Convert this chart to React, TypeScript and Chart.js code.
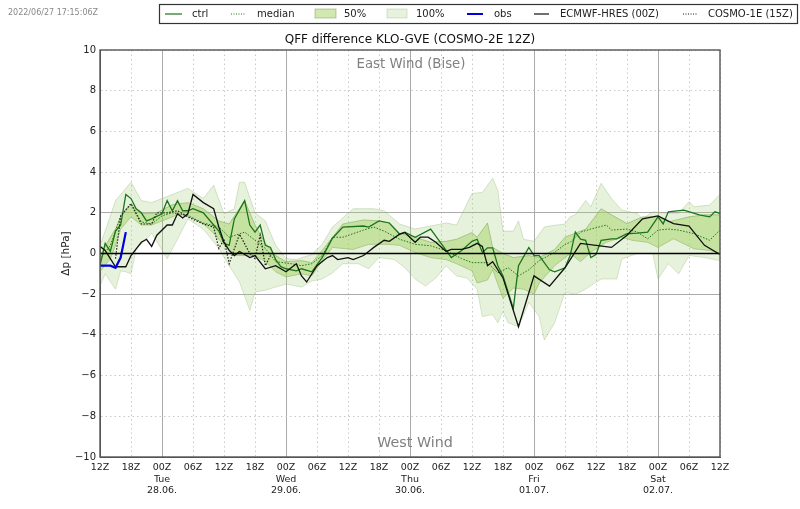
import { useEffect, useRef } from 'react';
import { Chart, registerables } from 'chart.js';

Chart.register(...registerables);

// hours since 27.06. 12Z
const ctrlHours = [0, 1, 2, 3, 4, 5, 6, 7, 8, 9, 10, 12, 13, 14, 15, 16, 17, 18, 20, 22, 23, 24, 25, 26, 28, 29, 30, 31, 32, 33, 34, 35, 36, 38, 39, 41, 43, 45, 47, 51, 52, 54, 56, 58, 59, 61, 64, 67, 68, 70, 72, 73, 74, 75, 76, 77, 78, 80, 81, 83, 84, 85, 87, 88, 90, 91, 92, 93, 94, 95, 96, 97, 99, 100, 102, 104, 106, 108, 109, 110, 113, 116, 118, 119, 120];
const ctrlValues = [-0.6, 0.5, 0.1, 1.1, 1.4, 2.9, 2.7, 2.2, 2.0, 1.6, 1.7, 1.95, 2.6, 2.1, 2.6, 2.1, 2.1, 2.2, 2.0, 1.4, 1.1, 0.5, 0.4, 1.7, 2.6, 1.4, 1.05, 1.4, 0.4, 0.3, -0.3, -0.65, -0.75, -0.85, -0.75, -0.9, -0.2, 0.75, 1.3, 1.35, 1.3, 1.6, 1.5, 0.95, 1.05, 0.8, 1.2, 0.15, -0.2, 0.15, 0.6, 0.7, 0.05, 0.28, 0.28, -0.6, -1.1, -2.7, -0.6, 0.3, -0.1, -0.1, -0.8, -0.9, -0.7, -0.1, 1.05, 0.7, 0.65, -0.2, -0.05, 0.65, 0.72, 0.72, 0.97, 1.0, 1.05, 1.8, 1.45, 2.05, 2.13, 1.9, 1.8, 2.05, 1.97];

const medianHours = [0, 2, 3, 4, 6, 8, 10, 12, 14, 17, 20, 23, 25, 28, 30, 32, 34, 37, 39, 41, 43, 45, 47, 51, 53, 55, 58, 61, 64, 67, 70, 72, 75, 77, 79, 81, 83, 85, 88, 90, 91, 93, 95, 98, 99, 102, 104, 106, 108, 110, 112, 115, 118, 120];
const medianValues = [-0.3, 0.4, 1.1, 1.85, 2.45, 1.55, 1.45, 1.85, 2.0, 1.85, 1.5, 1.3, 0.8, 1.05, 0.65, 0.25, -0.4, -0.5, -0.6, -0.5, -0.1, 0.8, 0.8, 1.15, 1.3, 1.1, 0.7, 0.45, 0.38, 0.13, -0.25, -0.45, -0.45, -0.95, -0.7, -1.1, -0.8, -0.35, 0.05, 0.45, 0.55, 1.05, 1.2, 1.4, 1.15, 1.2, 1.05, 0.72, 1.15, 1.2, 1.15, 0.97, 0.65, 1.15];

const p50UpperHours = [0, 2, 3, 4, 6, 8, 11, 14, 17, 20, 23, 25, 28, 30, 32, 34, 36, 39, 41, 43, 45, 47, 51, 54, 56, 58, 61, 64, 67, 69, 72, 73, 75, 76, 78, 80, 83, 85, 88, 90, 92, 94, 97, 99, 102, 105, 108, 110, 114, 117, 120];
const p50UpperValues = [-0.1, 0.8, 1.2, 1.8, 2.4, 1.95, 2.0, 2.4, 2.5, 2.2, 1.6, 1.45, 2.6, 1.4, 0.5, -0.1, -0.4, -0.35, -0.45, 0.15, 0.8, 1.45, 1.65, 1.6, 1.5, 1.0, 0.8, 0.55, 0.6, 0.7, 1.03, 0.8, 1.5, 0.3, 0.0, -0.2, -0.1, -0.2, 0.2, 0.8, 1.0, 1.2, 2.2, 1.9, 1.47, 1.8, 1.8, 1.55, 1.8, 1.9, 1.9];

const p50LowerHours = [0, 2, 3, 4, 6, 8, 10, 13, 15, 17, 20, 22, 24, 26, 29, 30, 32, 34, 36, 39, 41, 43, 45, 49, 52, 56, 58, 61, 64, 67, 69, 72, 73, 75, 76, 78, 80, 82, 84, 85, 88, 91, 93, 95, 98, 101, 103, 106, 108, 111, 115, 118, 120];
const p50LowerValues = [-0.9, -0.25, 0.4, 1.2, 1.8, 1.4, 1.4, 1.7, 1.9, 1.9, 1.45, 1.0, 0.4, -0.1, -0.1, -0.1, -0.4, -0.9, -1.15, -1.0, -1.1, -0.35, 0.3, 0.2, 0.45, 0.45, 0.4, 0.05, -0.2, -0.3, -0.5, -0.85, -1.45, -1.3, -0.8, -2.2, -1.7, -1.75, -2.0, -1.45, -0.6, 0.0, -0.4, 0.07, 0.55, 0.8, 0.65, 0.55, 0.3, 0.73, 0.23, 0.15, 0.0];

const p100UpperHours = [0, 1, 3, 6, 8, 10, 12, 15, 17, 20, 22, 24, 26, 27, 28, 30, 32, 34, 36, 38, 41, 43, 45, 47, 49, 53, 55, 58, 61, 64, 67, 69, 72, 74, 76, 77, 78, 80, 81, 82, 84, 86, 87, 90, 91, 92, 94, 95, 97, 99, 101, 104, 105, 107, 110, 112, 114, 115, 118, 120];
const p100UpperValues = [0.4, 1.1, 2.6, 3.5, 2.6, 2.5, 2.7, 3.0, 3.2, 2.7, 3.35, 1.95, 2.2, 3.5, 3.5, 2.0, 1.6, 0.4, -0.25, -0.3, -0.05, 0.45, 1.3, 1.75, 2.2, 2.2, 2.1, 1.45, 1.2, 1.35, 1.5, 1.4, 2.95, 3.0, 3.7, 3.1, 1.1, 1.1, 1.6, 0.7, 0.6, 1.3, 1.35, 1.45, 1.8, 1.9, 2.6, 2.3, 3.45, 2.7, 2.13, 1.97, 1.7, 2.05, 1.97, 1.97, 2.55, 2.3, 2.38, 2.9];

const p100LowerHours = [0, 1, 3, 4, 5, 6, 7, 9, 10, 13, 15, 17, 20, 23, 25, 27, 29, 30, 32, 34, 36, 39, 41, 43, 45, 47, 50, 52, 54, 57, 59, 61, 63, 65, 67, 69, 71, 73, 74, 76, 77, 78, 79, 81, 83, 85, 86, 88, 90, 92, 94, 97, 100, 101, 104, 107, 108, 110, 112, 114, 117, 120];
const p100LowerValues = [-1.6, -1.0, -1.75, -0.85, -0.9, -1.0, 0.25, 0.7, 1.0, -0.25, 0.7, 1.7, 1.2, 0.25, -0.6, -1.4, -2.8, -1.9, -1.8, -1.65, -1.5, -1.65, -1.35, -1.25, -0.95, -0.5, -0.5, -0.75, -0.2, -0.3, -0.7, -1.25, -1.6, -1.2, -0.6, -1.1, -1.2, -1.75, -3.1, -3.0, -3.4, -2.85, -3.4, -3.6, -2.4, -3.1, -4.25, -3.4, -1.9, -2.0, -1.75, -1.25, -1.25, -0.27, 0.0, 0.0, -1.25, -0.5, -1.0, -0.1, -0.2, -0.35];

const obsHours = [0, 2, 3, 4, 5];
const obsValues = [-0.6, -0.6, -0.7, -0.2, 1.05];

const ecmwfHours = [0, 1, 2, 3, 5, 6, 8, 9, 10, 11, 13, 14, 15, 16, 17, 18, 20, 22, 23, 24, 25, 26, 27, 29, 30, 32, 34, 36, 38, 39, 40, 42, 44, 45, 46, 48, 49, 51, 52, 53, 55, 56, 58, 59, 61, 62, 63.5, 65, 67, 68, 70, 71.5, 73, 74, 75, 76, 78, 81, 84, 87, 90, 93, 99, 102, 105, 108, 111, 114, 117, 120];
const ecmwfValues = [0.35, 0.15, -0.25, -0.65, -0.65, -0.1, 0.55, 0.7, 0.35, 0.9, 1.4, 1.4, 1.95, 1.75, 1.95, 2.9, 2.5, 2.2, 1.3, 0.55, 0.15, -0.1, 0.1, -0.2, -0.1, -0.75, -0.6, -0.9, -0.5, -1.1, -1.4, -0.6, -0.2, -0.1, -0.3, -0.2, -0.3, -0.1, 0.1, 0.3, 0.65, 0.6, 0.95, 1.03, 0.55, 0.8, 0.8, 0.55, 0.1, 0.2, 0.2, 0.3, 0.5, 0.35, -0.6, -0.4, -1.2, -3.6, -1.1, -1.6, -0.7, 0.5, 0.3, 0.9, 1.7, 1.85, 1.47, 1.35, 0.4, -0.05];

const cosmoHours = [3, 4, 6, 8, 10, 11, 13, 15, 17, 20, 22, 23, 24, 25, 27, 29, 30, 31, 32, 33];
const cosmoValues = [-0.25, 1.85, 2.45, 1.45, 1.45, 2.0, 2.0, 2.1, 1.8, 1.45, 1.3, 0.25, 0.7, -0.5, 0.95, 0.0, -0.25, 0.9, -0.6, -0.1];

const zeroHours = [0, 120];
const zeroValues = [0, 0];

const xTicks = [0, 6, 12, 18, 24, 30, 36, 42, 48, 54, 60, 66, 72, 78, 84, 90, 96, 102, 108, 114, 120];
const xTickZ = ['12Z', '18Z', '00Z', '06Z'];
const dayTicks: Record<number, string[]> = {
  12: ['Tue', '28.06.'],
  36: ['Wed', '29.06.'],
  60: ['Thu', '30.06.'],
  84: ['Fri', '01.07.'],
  108: ['Sat', '02.07.'],
};
const yTicks = [-10, -8, -6, -4, -2, 0, 2, 4, 6, 8, 10];

const FONT = '"DejaVu Sans"';
const CTRL = '#1a751a';
const FILL50 = 'rgba(165, 210, 100, 0.5)';
const FILL100 = 'rgba(170, 210, 130, 0.28)';
const EDGE50 = 'rgba(120, 160, 80, 0.5)';
const EDGE100 = 'rgba(130, 170, 90, 0.3)';

const points = (hours: number[], values: number[]) =>
  hours.map((h, i) => ({ x: h, y: values[i] }));

const legendItems = [
  { label: 'ctrl', x0: 165, x1: 182, tx: 192, color: CTRL, width: 1.2 },
  { label: 'median', x0: 231, x1: 246, tx: 257, color: CTRL, width: 1, dash: [1, 1.5] },
  { label: '50%', x0: 315, x1: 336, tx: 344, fill: FILL50, edge: EDGE50 },
  { label: '100%', x0: 387, x1: 407, tx: 416, fill: FILL100, edge: EDGE100 },
  { label: 'obs', x0: 467, x1: 483, tx: 494, color: '#0000e0', width: 2 },
  { label: 'ECMWF-HRES (00Z)', x0: 534, x1: 549, tx: 560, color: '#111', width: 1.2 },
  { label: 'COSMO-1E (15Z)', x0: 683, x1: 698, tx: 708, color: '#111', width: 1, dash: [1, 1.5] },
];

// frame, timestamp, wind labels and the boxed legend above the plot
const decorPlugin = {
  id: 'decor',
  afterDraw(chart: Chart) {
    const { ctx, chartArea: a } = chart;
    ctx.save();
    ctx.strokeStyle = '#555';
    ctx.lineWidth = 1.4;
    ctx.strokeRect(a.left, a.top, a.right - a.left, a.bottom - a.top);

    ctx.textBaseline = 'middle';
    ctx.textAlign = 'center';
    ctx.fillStyle = '#808080';
    ctx.font = `13.3px ${FONT}`;
    ctx.fillText('East Wind (Bise)', 411, 65);
    ctx.font = `14.3px ${FONT}`;
    ctx.fillText('West Wind', 415, 443);

    ctx.textAlign = 'left';
    ctx.fillStyle = '#888';
    ctx.font = `8px ${FONT}`;
    ctx.fillText('2022/06/27 17:15:06Z', 8, 13);

    ctx.strokeStyle = '#333';
    ctx.lineWidth = 1.2;
    ctx.strokeRect(159.5, 4.5, 638, 19);
    ctx.font = `10px ${FONT}`;
    for (const item of legendItems) {
      if (item.fill) {
        ctx.fillStyle = item.fill;
        ctx.fillRect(item.x0, 9, item.x1 - item.x0, 9);
        ctx.strokeStyle = item.edge as string;
        ctx.lineWidth = 1;
        ctx.strokeRect(item.x0, 9, item.x1 - item.x0, 9);
      } else {
        ctx.strokeStyle = item.color as string;
        ctx.lineWidth = item.width as number;
        ctx.setLineDash(item.dash || []);
        ctx.beginPath();
        ctx.moveTo(item.x0, 14);
        ctx.lineTo(item.x1, 14);
        ctx.stroke();
        ctx.setLineDash([]);
      }
      ctx.fillStyle = '#222';
      ctx.fillText(item.label, item.tx, 14);
    }
    ctx.restore();
  },
};

export default function App() {
  const canvasRef = useRef<HTMLCanvasElement>(null);

  useEffect(() => {
    if (!canvasRef.current) return;
    const line = { pointRadius: 0, tension: 0, fill: false };
    const chart = new Chart(canvasRef.current, {
      type: 'line',
      data: {
        datasets: [
          { ...line, label: 'zero', data: points(zeroHours, zeroValues), borderColor: '#000', borderWidth: 1.5 },
          { ...line, label: 'obs', data: points(obsHours, obsValues), borderColor: '#0000e0', borderWidth: 2.2 },
          { ...line, label: 'ECMWF-HRES (00Z)', data: points(ecmwfHours, ecmwfValues), borderColor: '#111', borderWidth: 1.3 },
          { ...line, label: 'COSMO-1E (15Z)', data: points(cosmoHours, cosmoValues), borderColor: '#222', borderWidth: 1.2, borderDash: [1.5, 1.5] },
          { ...line, label: 'ctrl', data: points(ctrlHours, ctrlValues), borderColor: CTRL, borderWidth: 1.3 },
          { ...line, label: 'median', data: points(medianHours, medianValues), borderColor: CTRL, borderWidth: 1, borderDash: [1.5, 1.5] },
          { ...line, label: '50%', data: points(p50UpperHours, p50UpperValues), borderColor: EDGE50, borderWidth: 1, fill: '+1', backgroundColor: FILL50 },
          { ...line, label: '50% low', data: points(p50LowerHours, p50LowerValues), borderColor: EDGE50, borderWidth: 1 },
          { ...line, label: '100%', data: points(p100UpperHours, p100UpperValues), borderColor: EDGE100, borderWidth: 1, fill: '+1', backgroundColor: FILL100 },
          { ...line, label: '100% low', data: points(p100LowerHours, p100LowerValues), borderColor: EDGE100, borderWidth: 1 },
        ],
      },
      options: {
        responsive: false,
        animation: false,
        devicePixelRatio: 1,
        layout: { padding: { top: 33, left: 60, right: 80, bottom: 0 } },
        plugins: {
          legend: { display: false },
          tooltip: { enabled: false },
          title: {
            display: true,
            fullSize: false,
            text: 'QFF difference KLO-GVE (COSMO-2E 12Z)',
            color: '#111',
            font: { family: FONT, size: 12, weight: 'normal' },
            padding: { top: 0, bottom: 2.6 },
          },
        },
        scales: {
          x: {
            type: 'linear',
            min: 0,
            max: 120,
            afterBuildTicks: (axis: any) => {
              axis.ticks = xTicks.map((value) => ({ value }));
            },
            afterFit: (axis: any) => {
              axis.height = 52;
            },
            border: {
              color: '#555',
              dash: (ctx: any) => ((ctx.tick?.value - 12) % 24 === 0 ? [] : [1.5, 3]),
            },
            grid: {
              color: (ctx: any) => ((ctx.tick?.value - 12) % 24 === 0 ? '#aaa' : '#c8c8c8'),
              tickLength: 0,
            },
            ticks: {
              autoSkip: false,
              maxRotation: 0,
              minRotation: 0,
              padding: 5,
              color: '#222',
              font: { family: FONT, size: 9.5 },
              callback: (value: any) => {
                const z = xTickZ[(Number(value) / 6) % 4];
                const day = dayTicks[Number(value)];
                return day ? [z, ...day] : z;
              },
            },
          },
          y: {
            type: 'linear',
            min: -10,
            max: 10,
            afterBuildTicks: (axis: any) => {
              axis.ticks = yTicks.map((value) => ({ value }));
            },
            afterFit: (axis: any) => {
              axis.width = 40;
            },
            border: {
              color: '#555',
              dash: (ctx: any) => (Math.abs(ctx.tick?.value) === 2 ? [] : [1.5, 3]),
            },
            grid: {
              color: (ctx: any) => (Math.abs(ctx.tick?.value) === 2 ? '#aaa' : '#c8c8c8'),
              tickLength: 0,
            },
            title: {
              display: true,
              text: 'Δp [hPa]',
              color: '#222',
              font: { family: FONT, size: 10.5 },
              padding: 0,
            },
            ticks: {
              padding: 4,
              color: '#222',
              font: { family: FONT, size: 10 },
              callback: (value: any) => String(value).replace('-', '\u2212'),
            },
          },
        },
      } as any,
      plugins: [decorPlugin],
    });
    return () => chart.destroy();
  }, []);

  return (
    <div style={{ position: 'absolute', left: 0, top: 0 }}>
      <canvas ref={canvasRef} width={800} height={509} style={{ display: 'block' }} />
    </div>
  );
}
